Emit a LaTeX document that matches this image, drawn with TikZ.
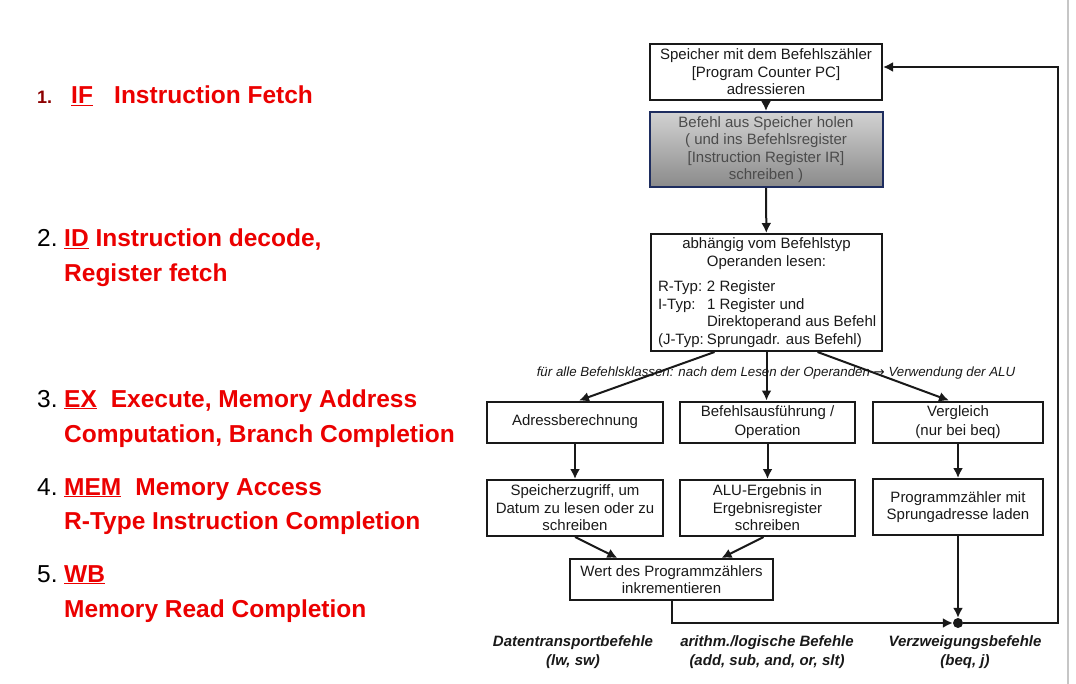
\documentclass[tikz,border=0pt]{standalone}
\usepackage{fontspec}
\setmainfont{Liberation Sans}
\newfontfamily\pfeilfont{DejaVu Sans}
\usetikzlibrary{arrows.meta,calc}
\definecolor{slidered}{RGB}{235,0,0}
\definecolor{numred}{RGB}{140,0,0}
\definecolor{irtop}{RGB}{210,210,210}
\definecolor{irbot}{RGB}{138,138,138}
\definecolor{irline}{RGB}{30,45,95}
\definecolor{irtext}{RGB}{75,75,75}
\definecolor{scan}{RGB}{25,25,25}
\begin{document}
\begin{tikzpicture}[x=1pt,y=-1pt,
  box/.style={draw=scan,line width=2pt,align=center,inner sep=0pt,text=scan,
    font=\fontsize{15}{17.5}\selectfont},
  flow/.style={draw=scan,line width=2pt,-{Latex[length=10pt,width=10pt]}},
  topic/.style={anchor=base west,inner sep=0pt,text=slidered,
    font=\fontsize{24.5}{29}\selectfont\bfseries},
  num/.style={anchor=base west,inner sep=0pt,font=\fontsize{24.5}{29}\selectfont},
  class/.style={align=center,inner sep=0pt,text=scan,
    font=\fontsize{15}{19}\selectfont\bfseries\itshape}]
\useasboundingbox (0,0) rectangle (1076,684);
\draw[line width=2.5pt,color=gray!45] (1068,0) -- (1068,684);

% Phasen
\node[anchor=base west,inner sep=0pt,text=numred,font=\fontsize{18}{20}\selectfont\bfseries] (n1) at (37,104) {1.};
\node[topic] (ph1a) at (71,104) {\underline{IF}};
\node[topic] (ph1b) at (114,104) {Instruction Fetch};
\node[num] (n2) at (37,247) {2.};
\node[topic] (ph2a) at (64,247) {\underline{ID} Instruction decode,};
\node[topic] (ph2b) at (64,282) {Register fetch};
\node[num] (n3) at (37,407) {3.};
\node[topic] (ph3a) at (64,407) {\underline{EX}\hspace{14pt}Execute, Memory Address};
\node[topic] (ph3b) at (64,442) {Computation, Branch Completion};
\node[num] (n4) at (37,495) {4.};
\node[topic] (ph4a) at (64,495) {\underline{MEM}\hspace{14pt}Memory Access};
\node[topic] (ph4b) at (64,529) {R-Type Instruction Completion};
\node[num] (n5) at (37,582) {5.};
\node[topic] (ph5a) at (64,582) {\underline{WB}};
\node[topic] (ph5b) at (64,617) {Memory Read Completion};

% Ablauf
\node[box,minimum width=232pt,minimum height=56pt] (pc) at (766,72)
  {Speicher mit dem Befehlszähler\\{[Program Counter PC]}\\adressieren};
\node[box,draw=irline,top color=irtop,bottom color=irbot,text=irtext,
  minimum width=233pt,minimum height=75pt] (ir) at (766,149.5)
  {Befehl aus Speicher holen\\( und ins Befehlsregister\\{[Instruction Register IR]}\\schreiben )};
\node[box,minimum width=231pt,minimum height=117pt] (op) at (766.5,292.5) {};
\node[box,draw=none] (opkopf) at (766.5,253.5) {abhängig vom Befehlstyp\\Operanden lesen:};
\node[box,draw=none,align=left,anchor=north west] (optyp) at (657,280)
  {\makebox[49pt][l]{R-Typ:}2 Register\\
   \makebox[49pt][l]{I-Typ:}1 Register und\\
   \makebox[49pt][l]{}Direktoperand aus Befehl\\
   \makebox[49pt][l]{(J-Typ:}Sprungadr. aus Befehl)};

\node[box,minimum width=176pt,minimum height=41pt] (adr) at (575,422) {Adressberechnung};
\node[box,minimum width=175pt,minimum height=41pt,font=\fontsize{15}{19}\selectfont] (exe) at (767.5,422) {Befehlsausführung /\\Operation};
\node[box,minimum width=170pt,minimum height=41pt,font=\fontsize{15}{19}\selectfont] (vgl) at (958,422) {Vergleich\\(nur bei beq)};
\node[box,minimum width=176pt,minimum height=56pt] (mem) at (575,508)
  {Speicherzugriff, um\\Datum zu lesen oder zu\\schreiben};
\node[box,minimum width=175pt,minimum height=56pt] (alu) at (767.5,508)
  {ALU-Ergebnis in\\Ergebnisregister\\schreiben};
\node[box,minimum width=170pt,minimum height=56pt] (spr) at (958,507)
  {Programmzähler mit\\Sprungadresse laden};
\node[box,minimum width=203pt,minimum height=41pt] (inc) at (671.5,579.5)
  {Wert des Programmzählers\\inkrementieren};
\node[circle,fill=scan,inner sep=0pt,minimum size=10pt] (jn) at (958,623) {};
\coordinate (fb) at (1058,67);

\draw[flow] (pc) -- (ir);
\draw[flow] (ir) -- (op);
\draw[flow] ($(op.south west)!0.277!(op.south east)$) -- ($(adr.north)+(4,0)$);
\draw[flow] (op.south) -- (op.south |- exe.north);
\draw[flow] ($(op.south west)!0.719!(op.south east)$) -- ($(vgl.north)+(-9,0)$);
\draw[flow] (adr) -- (mem);
\draw[flow] (exe) -- (alu);
\draw[flow] (vgl) -- (spr);
\draw[flow] (mem.south) -- ($(inc.north west)!0.236!(inc.north east)$);
\draw[flow] ($(alu.south)+(-4,0)$) -- ($(inc.north west)!0.744!(inc.north east)$);
\draw[flow] (inc.south) |- (jn.west);
\draw[flow] (spr.south) -- (jn.north);
\draw[flow] (jn.east) -| (fb) -- (fb -| pc.east);

\node[inner sep=1pt,text=scan,font=\fontsize{13.3}{15}\selectfont\itshape] (klassen) at (776,373)
  {für alle Befehlsklassen: nach dem Lesen der Operanden {\pfeilfont\upshape →} Verwendung der ALU};
\node[class] (dt) at (573,652) {Datentransportbefehle\\(lw, sw)};
\node[class] (al) at (767,652) {arithm./logische Befehle\\(add, sub, and, or, slt)};
\node[class] (vz) at (965,652) {Verzweigungsbefehle\\(beq, j)};
\end{tikzpicture}
\end{document}
